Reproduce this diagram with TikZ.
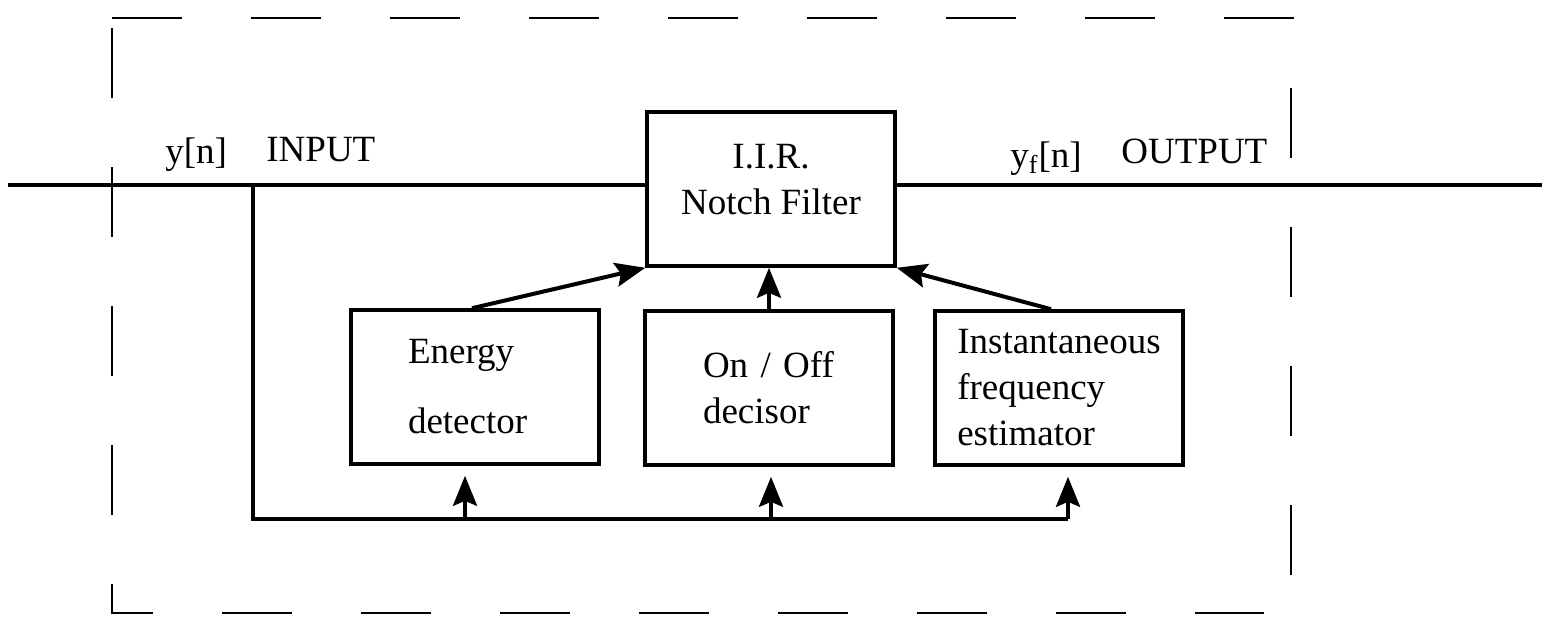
\documentclass[tikz,border=0pt]{standalone}
\usepackage{fontspec}
\setmainfont{Liberation Serif}
\usetikzlibrary{arrows.meta}

\begin{document}
\begin{tikzpicture}[
    x=0.5pt, y=-0.5pt,
    block/.style={rectangle, draw, line width=1.8pt, minimum width=124pt, minimum height=77pt, align=left, inner sep=0pt, font=\fontsize{18.5}{23}\selectfont},
    lbl/.style={anchor=base west, inner sep=0pt, font=\fontsize{18.5}{23}\selectfont},
    line/.style={line width=2pt},
    arrow/.style={line width=2pt, -{Stealth[length=15pt, width=12pt, inset=2.5pt]}},
    frame/.style={line width=1.4pt, dash pattern=on 35pt off 34.5pt}
  ]
  \useasboundingbox (0,0) rectangle (1542,632);

  % dashed frame
  \draw[frame] (112,28) -- (112,613) -- (1264,613);
  \draw[frame] (112,18) -- (1294,18);
  \draw[frame] (1291,88) -- (1291,576);

  \node[block, align=center, text depth=10pt] (iir) at (771,189) {I.I.R.\\Notch Filter};
  \node[block, text width=67pt] (energy) at (475,387) {Energy\\[12pt]detector};
  \node[block, text width=66pt] (onoff) at (769,388) {On / Off\\decisor};
  \node[block] (ifreq) at (1059,388) {Instantaneous\\frequency\\estimator};

  \node[lbl] (yin) at (165,163) {y[n]};
  \node[lbl] (inlbl) at (266,161) {INPUT};
  \node[lbl] (yout) at (1010,167) {y$_{\mathrm{f}}$[n]};
  \node[lbl] (outlbl) at (1121,163) {OUTPUT};

  \coordinate (in) at (8,185);
  \coordinate (out) at (1542,185);
  \coordinate (tap) at (253,185);
  \coordinate (b1) at (465,519);
  \coordinate (b2) at (771,519);
  \coordinate (b3) at (1068,519);

  \draw[line] (in) -- (iir.west |- in);
  \draw[line] (iir.east |- out) -- (out);
  \draw[line] (tap) |- (b3);

  \draw[arrow, shorten >=5pt] (b1) -- (b1 |- energy.south);
  \draw[arrow, shorten >=5pt] (b2) -- (b2 |- onoff.south);
  \draw[arrow, shorten >=5pt] (b3) -- (b3 |- ifreq.south);

  \draw[arrow] ([xshift=-1.5pt]energy.north) -- (iir.south west);
  \draw[arrow] (onoff.north) -- (onoff.north |- iir.south);
  \draw[arrow] ([xshift=-4pt]ifreq.north) -- (iir.south east);
\end{tikzpicture}
\end{document}
